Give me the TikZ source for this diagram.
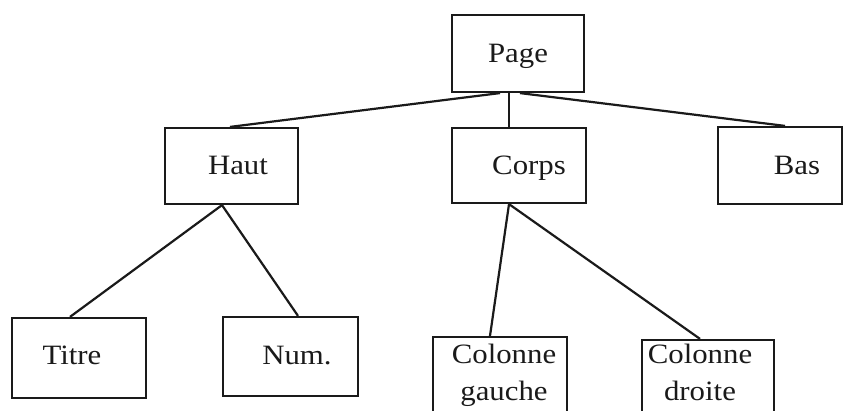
\documentclass[tikz,border=0pt]{standalone}
\usepackage{fontspec}
\setmainfont[FakeStretch=1.1]{Liberation Serif}
\usetikzlibrary{calc}
\definecolor{ink}{HTML}{1A1A1A}
\begin{document}
\begin{tikzpicture}[x=1pt,y=-1pt,
  box/.style={draw=ink,line width=2.2pt,inner sep=0pt},
  lbl/.style={font=\fontsize{28}{37}\selectfont,text=ink,anchor=base,inner sep=0pt,align=center},
  link/.style={draw=ink,line width=2.2pt}]
\useasboundingbox (0,0) rectangle (843,411);
\clip (0,0) rectangle (843,411);
\fill[white] (0,0) rectangle (843,411);
% boxes
\node[box,minimum width=132pt,minimum height=77pt] (page) at (518,53.5) {};
\node[box,minimum width=133pt,minimum height=76pt] (haut) at (231.5,166) {};
\node[box,minimum width=134pt,minimum height=75pt] (corps) at (519,165.5) {};
\node[box,minimum width=124pt,minimum height=77pt] (bas) at (780,165.5) {};
\node[box,minimum width=134pt,minimum height=80pt] (titre) at (79,358) {};
\node[box,minimum width=135pt,minimum height=79pt] (num) at (290.5,356.5) {};
\node[box,minimum width=134pt,minimum height=93pt] (cg) at (500,383.5) {};
\node[box,minimum width=132pt,minimum height=90pt] (cd) at (708,385) {};
% labels
\node[lbl] (tpage) at (518,63) {Page};
\node[lbl] (thaut) at (238,175) {Haut};
\node[lbl] (tcorps) at (529,175) {Corps};
\node[lbl] (tbas) at (797,175) {Bas};
\node[lbl] (ttitre) at (72,365) {Titre};
\node[lbl] (tnum) at (297,365) {Num.};
\node[lbl] (tcg) at (504,400) {Colonne\\gauche};
\node[lbl] (tcd) at (700,400) {Colonne\\droite};
% connectors
\draw[link] ($(page.south)+(-18,0)$) -- ($(haut.north)+(-1.5,0)$);
\draw[link] ($(page.south)+(-9,0)$) -- ($(corps.north)+(-10,0)$);
\draw[link] ($(page.south)+(2,0)$) -- ($(bas.north)+(5,0)$);
\draw[link] ($(haut.south)+(-9.5,0)$) -- ($(titre.north)+(-9,0)$);
\draw[link] ($(haut.south)+(-9.5,0)$) -- ($(num.north)+(7.5,0)$);
\draw[link] ($(corps.south)+(-10,0)$) -- ($(cg.north)+(-10,0)$);
\draw[link] ($(corps.south)+(-10,0)$) -- ($(cd.north)+(-8,0)$);
\end{tikzpicture}
\end{document}
